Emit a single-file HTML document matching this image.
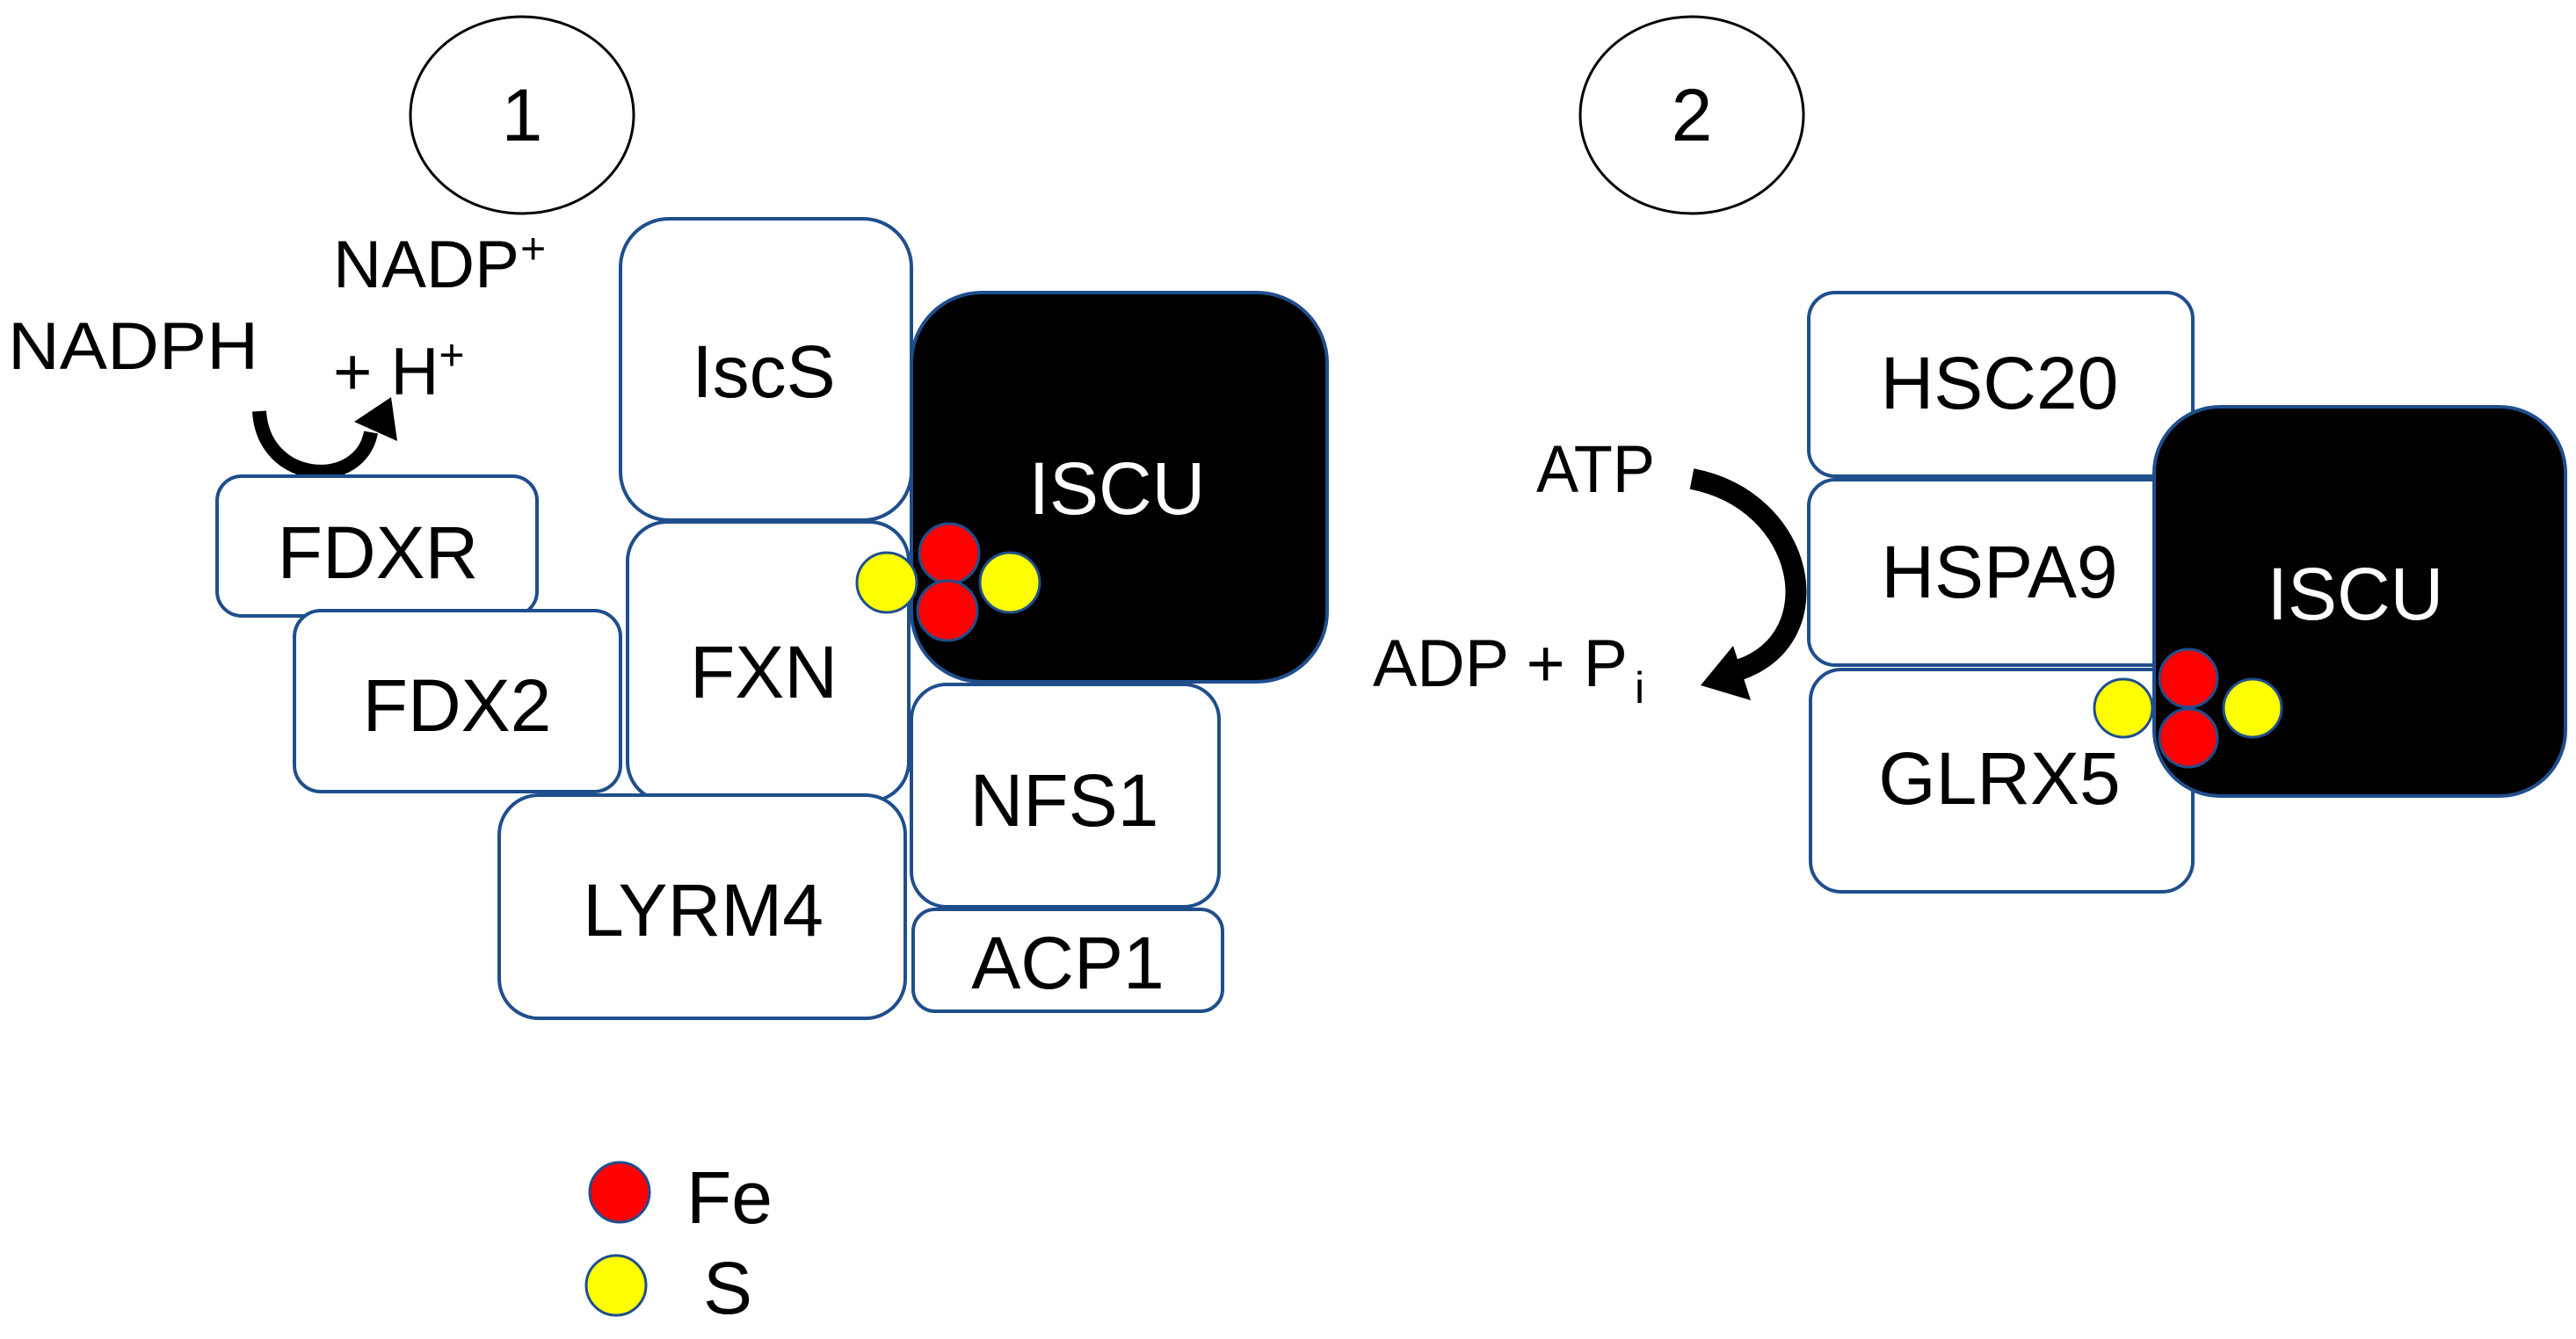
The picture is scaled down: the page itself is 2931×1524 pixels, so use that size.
<!DOCTYPE html>
<html><head><meta charset="utf-8"><style>
html,body{margin:0;padding:0;background:#fff;}
svg{display:block}
text{font-family:"Liberation Sans",sans-serif;}
</style></head><body>
<svg width="2931" height="1524" viewBox="0 0 2931 1524" xmlns="http://www.w3.org/2000/svg">
<rect width="2931" height="1524" fill="#fff"/>
<g fill="none" stroke="#000" stroke-width="3">
<ellipse cx="594" cy="131" rx="127" ry="112"/>
<ellipse cx="1925" cy="131" rx="127" ry="112"/>
</g>
<g font-size="84" fill="#000">
<text x="594" y="160" text-anchor="middle">1</text>
<text x="1925" y="160" text-anchor="middle">2</text>
</g>
<g font-size="76" fill="#000">
<text x="379" y="327" textLength="212" lengthAdjust="spacingAndGlyphs">NADP</text>
<text x="592" y="300" font-size="50">+</text>
<text x="9" y="420" textLength="285" lengthAdjust="spacingAndGlyphs">NADPH</text>
<text x="379" y="449">+ H<tspan dy="-28" font-size="50">+</tspan></text>
<text x="1748" y="560" textLength="135" lengthAdjust="spacingAndGlyphs">ATP</text>
<text x="1562" y="781" textLength="290" lengthAdjust="spacingAndGlyphs">ADP + P</text>
<text x="1860" y="800" font-size="50">i</text>
</g>
<path d="M295,468 C300,552 410,558 422,492" fill="none" stroke="#000" stroke-width="16"/>
<polygon points="445,452 403,480 452,502" fill="#000"/>
<path d="M1925,545 C2055,570 2085,725 1980,762" fill="none" stroke="#000" stroke-width="24"/>
<polygon points="1935,780 1972,735 1992,797" fill="#000"/>
<g fill="#fff" stroke="#1f4e8c" stroke-width="4">
<rect x="247" y="542" width="364" height="159" rx="28"/>
<rect x="335" y="695" width="371" height="206" rx="30"/>
<rect x="706" y="249" width="331" height="343" rx="55"/>
<rect x="714" y="594" width="320" height="318" rx="45"/>
<rect x="568" y="905" width="462" height="254" rx="45"/>
<rect x="1037" y="779" width="350" height="253" rx="40"/>
<rect x="1039" y="1035" width="352" height="116" rx="25"/>
<rect x="2058" y="333" width="437" height="209" rx="30"/>
<rect x="2058" y="546" width="437" height="211" rx="30"/>
<rect x="2060" y="762" width="435" height="253" rx="35"/>
</g>
<rect x="1037" y="333" width="473" height="443" rx="80" fill="#000" stroke="#1f4e8c" stroke-width="4"/>
<rect x="2451" y="463" width="468" height="443" rx="75" fill="#000" stroke="#1f4e8c" stroke-width="4"/>
<g font-size="84" fill="#000" text-anchor="middle">
<text x="430" y="658">FDXR</text>
<text x="520" y="832">FDX2</text>
<text x="869" y="452">IscS</text>
<text x="869" y="794">FXN</text>
<text x="800" y="1065">LYRM4</text>
<text x="1211" y="940">NFS1</text>
<text x="1215" y="1125">ACP1</text>
<text x="2275" y="465">HSC20</text>
<text x="2275" y="680">HSPA9</text>
<text x="2275" y="915">GLRX5</text>
</g>
<g font-size="84" fill="#fff" text-anchor="middle">
<text x="1271" y="585">ISCU</text>
<text x="2680" y="705">ISCU</text>
</g>
<g stroke="#1f4e8c" stroke-width="3">
<circle cx="1009" cy="663" r="34" fill="#ff0"/>
<circle cx="1149" cy="663" r="34" fill="#ff0"/>
<circle cx="1080" cy="630" r="34" fill="#f00"/>
<circle cx="1078" cy="695" r="34" fill="#f00"/>
<circle cx="2416" cy="806" r="33" fill="#ff0"/>
<circle cx="2563" cy="806" r="33" fill="#ff0"/>
<circle cx="2490" cy="772" r="33" fill="#f00"/>
<circle cx="2490" cy="840" r="33" fill="#f00"/>
<circle cx="705" cy="1357" r="34" fill="#f00"/>
<circle cx="701" cy="1463" r="34" fill="#ff0"/>
</g>
<g font-size="84" fill="#000">
<text x="781" y="1392">Fe</text>
<text x="800" y="1495">S</text>
</g>
</svg>
</body></html>
